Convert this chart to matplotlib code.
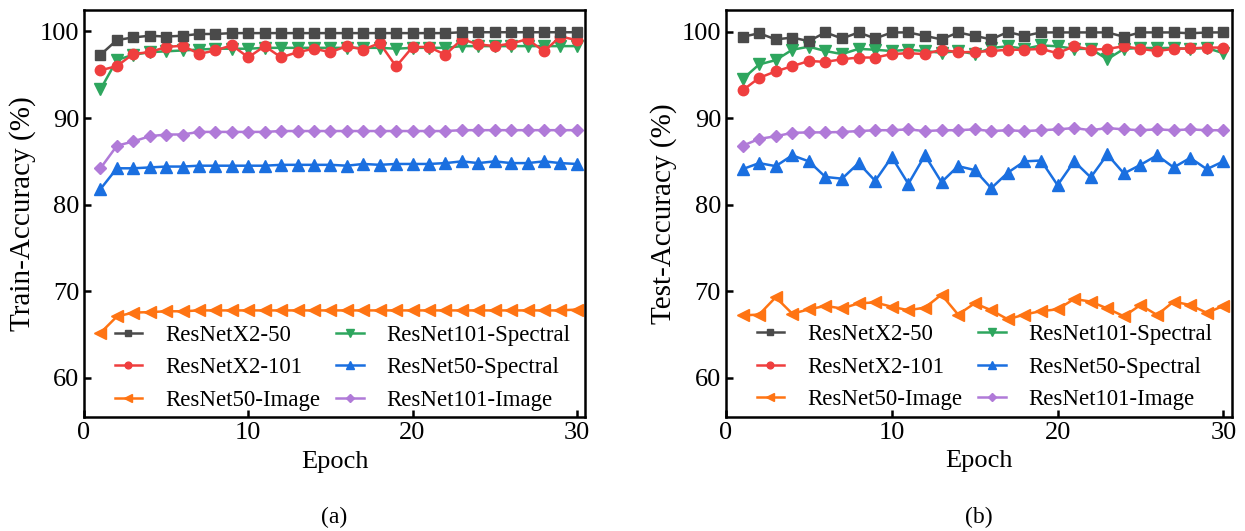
import numpy as np
import matplotlib
matplotlib.use('Agg')
import matplotlib.pyplot as plt

plt.rcParams['font.family'] = ['Liberation Serif', 'DejaVu Serif']

epochs = np.arange(1, 31)

# (a) train accuracy
train_x2_50 = [97.3, 99.0, 99.3, 99.5, 99.4, 99.5, 99.7, 99.7, 99.8, 99.8,
               99.8, 99.8, 99.8, 99.8, 99.8, 99.8, 99.8, 99.8, 99.8, 99.8,
               99.8, 99.8, 99.9, 99.9, 99.9, 99.9, 99.9, 99.9, 99.9, 99.9]
train_x2_101 = [95.5, 96.0, 97.4, 97.6, 98.2, 98.35, 97.4, 97.8, 98.4, 97.0,
                98.3, 97.0, 97.6, 98.0, 97.6, 98.3, 97.9, 98.65, 95.95, 98.2,
                98.2, 97.3, 99.1, 98.5, 98.3, 98.6, 99.1, 97.7, 99.4, 99.0]
train_50_img = [65.2, 67.1, 67.55, 67.6, 67.7, 67.7, 67.8, 67.8, 67.8, 67.8,
                67.8, 67.8, 67.8, 67.8, 67.8, 67.8, 67.8, 67.8, 67.8, 67.8,
                67.8, 67.8, 67.8, 67.8, 67.8, 67.8, 67.8, 67.8, 67.8, 67.9]
train_101_spec = [93.3, 96.7, 97.3, 97.6, 97.7, 97.8, 97.9, 98.0, 98.0, 98.0,
                  98.1, 98.1, 98.1, 98.1, 98.1, 98.1, 98.1, 98.1, 98.0, 98.1,
                  98.1, 98.1, 98.3, 98.3, 98.3, 98.3, 98.3, 98.3, 98.3, 98.3]
train_50_spec = [81.8, 84.2, 84.2, 84.3, 84.4, 84.4, 84.5, 84.5, 84.5, 84.5,
                 84.5, 84.6, 84.6, 84.6, 84.6, 84.5, 84.7, 84.6, 84.7, 84.7,
                 84.7, 84.8, 85.0, 84.8, 85.0, 84.8, 84.8, 85.0, 84.8, 84.7]
train_101_img = [84.2, 86.8, 87.3, 87.9, 88.1, 88.1, 88.4, 88.4, 88.4, 88.4,
                 88.4, 88.5, 88.5, 88.5, 88.5, 88.5, 88.5, 88.5, 88.5, 88.5,
                 88.5, 88.5, 88.6, 88.6, 88.6, 88.6, 88.6, 88.6, 88.6, 88.6]

# (b) test accuracy
test_x2_50 = [99.4, 99.8, 99.1, 99.3, 98.9, 99.9, 99.2, 99.9, 99.2, 99.9,
              99.9, 99.5, 99.1, 99.9, 99.5, 99.1, 99.95, 99.5, 99.9, 99.9,
              99.9, 99.9, 99.9, 99.4, 99.9, 99.9, 99.9, 99.8, 99.9, 99.9]
test_x2_101 = [93.2, 94.65, 95.4, 96.0, 96.6, 96.5, 96.8, 97.0, 97.0, 97.4,
               97.5, 97.4, 97.9, 97.6, 97.65, 97.75, 97.9, 97.9, 98.0, 97.5,
               98.3, 97.9, 98.0, 98.3, 98.0, 97.75, 98.0, 98.05, 98.15, 98.15]
test_50_img = [67.2, 67.3, 69.3, 67.4, 67.9, 68.3, 68.0, 68.6, 68.7, 68.2,
               67.8, 68.1, 69.6, 67.3, 68.6, 67.8, 66.75, 67.3, 67.7, 67.9,
               69.1, 68.8, 68.0, 67.1, 68.4, 67.25, 68.8, 68.4, 67.5, 68.3]
test_101_spec = [94.5, 96.2, 96.7, 97.9, 98.25, 97.75, 97.4, 98.0, 97.9, 97.75,
                 97.9, 97.75, 97.55, 97.75, 97.4, 98.1, 98.3, 98.0, 98.4, 98.3,
                 98.0, 98.0, 96.8, 98.0, 98.1, 98.1, 98.1, 98.0, 98.1, 97.5]
test_50_spec = [84.1, 84.8, 84.45, 85.7, 85.0, 83.2, 83.0, 84.8, 82.75, 85.5,
                82.4, 85.7, 82.6, 84.45, 84.0, 81.9, 83.7, 85.0, 85.1, 82.25,
                85.0, 83.15, 85.8, 83.6, 84.6, 85.7, 84.3, 85.4, 84.1, 85.0]
test_101_img = [86.8, 87.6, 87.9, 88.3, 88.35, 88.35, 88.4, 88.5, 88.6, 88.6,
                88.7, 88.5, 88.6, 88.6, 88.7, 88.5, 88.6, 88.5, 88.6, 88.7,
                88.85, 88.6, 88.85, 88.7, 88.6, 88.7, 88.6, 88.7, 88.6, 88.6]

labels = ['ResNetX2-50', 'ResNetX2-101', 'ResNet50-Image',
          'ResNet101-Spectral', 'ResNet50-Spectral', 'ResNet101-Image']
colors = ['#4a4a4a', '#ef3e3e', '#ff7413', '#2ea65e', '#1a6fe0', '#b07ad8']
markers = ['s', 'o', '<', 'v', '^', 'D']
msizes = [6.5, 7.5, 8, 8, 8, 6.5]
zorders = [6, 5, 2, 3, 2, 2]

train = [train_x2_50, train_x2_101, train_50_img, train_101_spec, train_50_spec, train_101_img]
test = [test_x2_50, test_x2_101, test_50_img, test_101_spec, test_50_spec, test_101_img]

fig = plt.figure(figsize=(12.45, 5.31), dpi=100)
ax1 = fig.add_axes([0.0675, 0.2147, 0.4024, 0.767])
ax2 = fig.add_axes([0.5831, 0.2153, 0.4062, 0.766])

for ax, data, ylab, cap in [(ax1, train, 'Train-Accuracy (%)', '(a)'),
                            (ax2, test, 'Test-Accuracy (%)', '(b)')]:
    for d, lab, c, m, ms, z in zip(data, labels, colors, markers, msizes, zorders):
        ax.plot(epochs, d, color=c, marker=m, markersize=ms, lw=1.8, label=lab, zorder=z)
    ax.set_xlim(0, 30.5)
    ax.set_ylim(55.5, 102.5)
    ax.set_xticks([0, 10, 20, 30])
    ax.set_yticks([60, 70, 80, 90, 100])
    ax.tick_params(direction='in', length=5, width=1.8, labelsize=19,
                   top=False, right=False)
    for s in ax.spines.values():
        s.set_linewidth(1.8)
    ax.set_xlabel('Epoch', fontsize=19, labelpad=5)
    ax.set_ylabel(ylab, fontsize=21, labelpad=3)
    ax.legend(ncol=2, loc='lower left', bbox_to_anchor=(0.02, -0.035), frameon=False,
              fontsize=16.5, handlelength=1.2, markerscale=0.65,
              columnspacing=0.7, labelspacing=0.5, handletextpad=1.0)
    pos = ax.get_position()
    fig.text(pos.x0 + pos.width / 2, 0.026, cap, ha='center', va='center', fontsize=17)

fig.savefig('out.png', dpi=100)
